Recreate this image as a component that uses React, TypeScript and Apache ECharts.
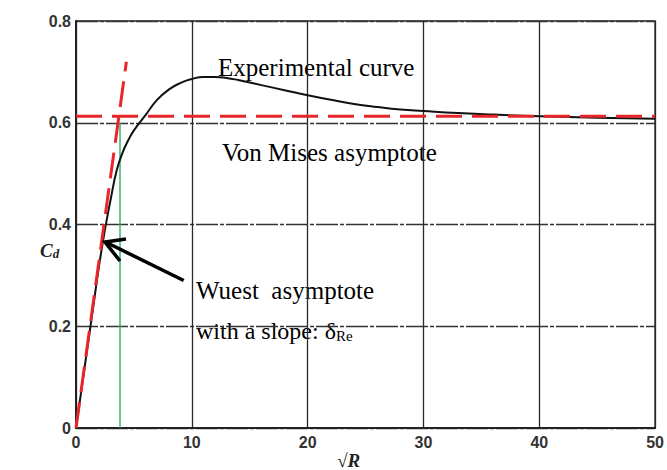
import React, { useEffect, useRef } from "react";
import * as echarts from "echarts";

const curveX = [0, 0.5, 1, 1.5, 2, 2.5, 3, 3.5, 4, 4.5, 5, 6, 7, 8, 9, 10, 11, 12, 13, 14, 15, 16, 18, 20, 22, 24, 26, 28, 30, 33, 36, 40, 45, 50];
const curveY = [0, 0.08, 0.16, 0.24, 0.32, 0.39, 0.45, 0.505, 0.54, 0.565, 0.585, 0.615, 0.645, 0.665, 0.678, 0.686, 0.69, 0.69, 0.688, 0.684, 0.679, 0.674, 0.664, 0.654, 0.645, 0.637, 0.631, 0.626, 0.623, 0.619, 0.616, 0.613, 0.61, 0.608];
const slopeLine = [[0, 0], [4.35, 0.72]];
const vonMisesLine = [[0, 0.613], [50, 0.613]];
const greenLine = [[3.8, 0], [3.8, 0.6]];
const arrowFrom = [9.3, 0.29];
const arrowTo = [2.5, 0.366];
const xTicks = [0, 10, 20, 30, 40, 50];
const yTicks = [0, 0.2, 0.4, 0.6, 0.8];

export default function App() {
  const ref = useRef<HTMLDivElement>(null);
  useEffect(() => {
    document.body.style.margin = "0";
    const chart = echarts.init(ref.current!, null, { renderer: "svg" });
    const serif = "'Liberation Serif', 'Times New Roman', serif";
    const sans = "'Liberation Sans', Arial, sans-serif";
    const option: any = {
      animation: false,
      backgroundColor: "#ffffff",
      grid: { left: 76, right: 10, top: 21, bottom: 42, show: true, borderColor: "#222", borderWidth: 1.5 },
      xAxis: {
        type: "value",
        min: 0,
        max: 50,
        interval: 10,
        axisLine: { show: true, lineStyle: { color: "#222", width: 2 } },
        axisTick: { show: false },
        axisLabel: {
          color: "#333",
          fontWeight: "bold",
          fontSize: 16,
          fontFamily: sans,
          margin: 6,
          formatter: (v: number) => (xTicks.includes(v) ? String(v) : ""),
        },
        splitLine: { show: true, lineStyle: { color: "#2a2a2a", width: 1.3 } },
      },
      yAxis: {
        type: "value",
        min: 0,
        max: 0.8,
        interval: 0.2,
        axisLine: { show: true, lineStyle: { color: "#222", width: 2 } },
        axisTick: { show: false },
        axisLabel: {
          color: "#333",
          fontWeight: "bold",
          fontSize: 16,
          fontFamily: sans,
          margin: 5,
          formatter: (v: number) => {
            const t = yTicks.find((y) => Math.abs(y - v) < 1e-6);
            return t === undefined ? "" : t === 0 ? "0" : t.toFixed(1);
          },
        },
        splitLine: { show: true, lineStyle: { color: "#333", width: 1.3, type: [22, 2, 4, 2] } },
      },
      series: [
        {
          type: "line",
          data: greenLine,
          showSymbol: false,
          lineStyle: { color: "#3cb371", width: 1.5 },
          z: 2,
        },
        {
          type: "line",
          data: curveX.map((x, i) => [x, curveY[i]]),
          smooth: true,
          showSymbol: false,
          lineStyle: { color: "#111", width: 2 },
          z: 3,
        },
        {
          type: "line",
          data: vonMisesLine,
          showSymbol: false,
          lineStyle: { color: "#e8262a", width: 3, type: [26, 10] },
          z: 4,
        },
        {
          type: "line",
          data: slopeLine,
          showSymbol: false,
          lineStyle: { color: "#e8262a", width: 3, type: [26, 10] },
          z: 4,
        },
        {
          type: "line",
          data: [arrowFrom, arrowTo],
          showSymbol: false,
          lineStyle: { color: "#000", width: 3.5 },
          z: 5,
        },
      ],
      graphic: [
        { type: "text", x: 218, y: 67, style: { text: "Experimental curve", font: `25px ${serif}`, fill: "#000", textVerticalAlign: "middle" } },
        { type: "text", x: 222, y: 152, style: { text: "Von Mises asymptote", font: `25px ${serif}`, fill: "#000", textVerticalAlign: "middle" } },
        { type: "text", x: 196, y: 290, style: { text: "Wuest  asymptote", font: `25px ${serif}`, fill: "#000", textVerticalAlign: "middle" } },
        {
          type: "text",
          x: 196,
          y: 315,
          style: {
            text: "{a|with a slope: δ}{s|Re}",
            rich: {
              a: { font: `24px ${serif}`, fill: "#000", verticalAlign: "bottom", lineHeight: 28 },
              s: { font: `15px ${serif}`, fill: "#000", verticalAlign: "bottom", lineHeight: 16 },
            },
          },
        },
        {
          type: "polyline",
          shape: { points: [[126, 239], [105, 242], [120, 261]] },
          style: { stroke: "#000", lineWidth: 3.5, fill: "none" },
          z: 10,
        },
        {
          type: "text",
          x: 40,
          y: 238,
          style: {
            text: "{c|C}{d|d}",
            rich: {
              c: { font: `italic bold 19px ${serif}`, fill: "#222", verticalAlign: "bottom", lineHeight: 22 },
              d: { font: `italic bold 13px ${serif}`, fill: "#222", verticalAlign: "bottom", lineHeight: 14 },
            },
          },
        },
        {
          type: "text",
          x: 337,
          y: 451,
          style: { text: "√R", font: `italic bold 19px ${serif}`, fill: "#222" },
        },
      ],
    };
    chart.setOption(option);
    return () => chart.dispose();
  }, []);
  return <div ref={ref} style={{ width: 667, height: 470 }} />;
}
